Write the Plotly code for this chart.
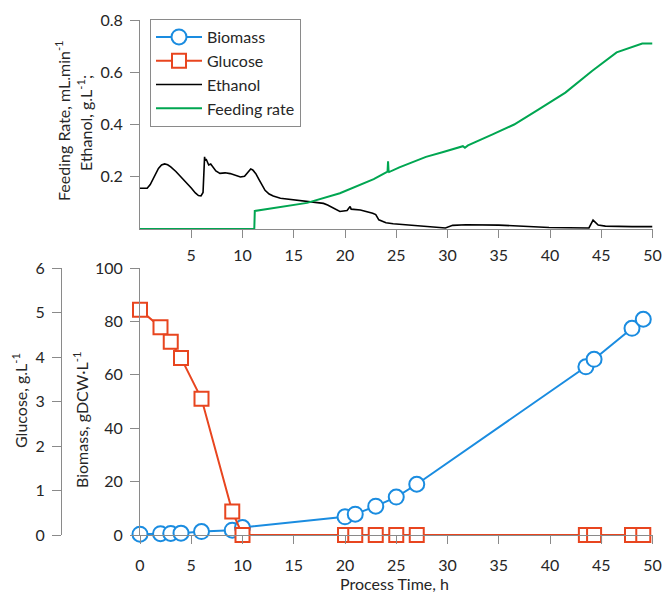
import plotly.graph_objects as go

# ---- Fed-batch data -------------------------------------------------------
# Online signals (upper panel)
time_ethanol = [0, 0.7, 1.0, 1.4, 1.8, 2.1, 2.4, 2.7, 3.0, 3.5, 4.0, 4.5, 5.0,
                5.4, 5.7, 5.95, 6.15, 6.3, 6.35, 6.45, 6.55, 6.7, 6.9, 7.1, 7.4,
                7.8, 8.3, 8.8, 9.3, 9.8, 10.2, 10.5, 10.8, 11.0, 11.3, 11.6, 11.9,
                12.2, 12.6, 13.0, 13.7, 15.0, 16.3, 17.9, 18.3, 18.6, 19.5, 20.2,
                20.5, 20.6, 21.5, 22.7, 23.0, 23.3, 24.0, 24.7, 26.0, 27.3, 29.2,
                29.8, 30.5, 31.8, 35.0, 39.9, 43.8, 44.2, 44.7, 45.4, 48.0, 50.0]
ethanol = [0.156, 0.156, 0.170, 0.200, 0.232, 0.245, 0.249, 0.246, 0.238, 0.220,
           0.200, 0.178, 0.157, 0.138, 0.128, 0.127, 0.140, 0.276, 0.262, 0.268,
           0.258, 0.245, 0.249, 0.238, 0.222, 0.213, 0.215, 0.212, 0.204, 0.199,
           0.202, 0.218, 0.230, 0.226, 0.212, 0.190, 0.168, 0.148, 0.134, 0.126,
           0.118, 0.111, 0.105, 0.098, 0.092, 0.086, 0.067, 0.071, 0.086, 0.076,
           0.073, 0.060, 0.055, 0.035, 0.024, 0.020, 0.016, 0.012, 0.006, 0.004,
           0.014, 0.016, 0.015, 0.006, 0.004, 0.034, 0.015, 0.011, 0.009, 0.009]

time_feed = [0, 11.15, 11.2, 16.3, 19.5, 22.8, 24.15, 24.2, 24.25, 24.3, 25.3,
             26.6, 27.9, 29.5, 31.5, 31.7, 32.0, 34.4, 36.5, 38.9, 41.5, 44.1,
             46.5, 49.0, 50.0]
feed_rate = [0, 0, 0.069, 0.100, 0.137, 0.191, 0.220, 0.259, 0.222, 0.218, 0.236,
             0.255, 0.276, 0.294, 0.317, 0.311, 0.320, 0.362, 0.400, 0.458, 0.522,
             0.605, 0.676, 0.710, 0.710]

# Offline samples (lower panel)
time_samples = [0, 2, 3, 4, 6, 9, 10, 20, 21, 23, 25, 27, 43.5, 44.3, 48.0, 49.1]
biomass = [0.3, 0.5, 0.6, 0.7, 1.3, 1.8, 2.8, 6.8, 7.8, 10.8, 14.2, 19.0,
           63.0, 65.8, 77.4, 80.8]
glucose = [5.06, 4.67, 4.34, 3.98, 3.06, 0.53, 0, 0, 0, 0, 0, 0, 0, 0, 0, 0]

x_ticks_top = [5, 10, 15, 20, 25, 30, 35, 40, 45, 50]
y_ticks_top = [0.2, 0.4, 0.6, 0.8]

# ---- Styling ---------------------------------------------------------------
W, H = 663, 592
BLUE = "#1a8ce0"
RED = "#e8451f"
GREEN = "#00a651"
AXIS = "#8a8a8a"
TEXT = "#262626"
FONT = "Lato, 'Open Sans', sans-serif"

fig = go.Figure()

fig.add_trace(go.Scatter(
    x=time_samples, y=biomass, name="Biomass", mode="lines+markers",
    xaxis="x2", yaxis="y2", cliponaxis=False, legendgroup="a",
    line=dict(color=BLUE, width=2),
    marker=dict(symbol="circle", size=15, color="white",
                line=dict(color=BLUE, width=2))))

fig.add_trace(go.Scatter(
    x=time_samples, y=glucose, name="Glucose", mode="lines+markers",
    xaxis="x2", yaxis="y3", cliponaxis=False, legendgroup="b",
    line=dict(color=RED, width=2),
    marker=dict(symbol="square", size=14, color="white",
                line=dict(color=RED, width=2))))

fig.add_trace(go.Scatter(
    x=time_ethanol, y=ethanol, name="Ethanol", mode="lines",
    xaxis="x", yaxis="y", cliponaxis=False, legendgroup="c",
    line=dict(color="black", width=1.6)))

fig.add_trace(go.Scatter(
    x=time_feed, y=feed_rate, name="Feeding rate", mode="lines",
    xaxis="x", yaxis="y", cliponaxis=False, legendgroup="d",
    line=dict(color=GREEN, width=2)))

x_dom = [140 / W, 652.5 / W]
plot_top, plot_bot = 20, 535
span = plot_bot - plot_top


def py(pix):
    """Vertical pixel position -> paper fraction."""
    return (plot_bot - pix) / span


axis_common = dict(showline=True, linecolor=AXIS, linewidth=1, ticks="outside",
                   tickcolor=AXIS, tickwidth=1, showgrid=False, zeroline=False,
                   automargin=False, ticklabeloverflow="allow",
                   tickfont=dict(size=16, color=TEXT))

fig.update_layout(
    width=W, height=H,
    margin=dict(l=0, r=0, t=plot_top, b=H - plot_bot),
    paper_bgcolor="white", plot_bgcolor="white",
    font=dict(family=FONT, size=16, color=TEXT),
    xaxis=dict(domain=x_dom, anchor="y", range=[0, 50], tickvals=x_ticks_top,
               ticklen=8, ticklabelstandoff=4, **axis_common),
    yaxis=dict(domain=[py(229), 1], anchor="x", range=[0, 0.8],
               tickvals=y_ticks_top, ticktext=["0.2", "0.4", "0.6", "0.8"],
               ticklen=9, ticklabelstandoff=4, **axis_common),
    xaxis2=dict(domain=x_dom, anchor="y2", range=[0, 50], tick0=0, dtick=5,
                ticklen=8, ticklabelstandoff=8, **axis_common),
    yaxis2=dict(domain=[0, py(268)], anchor="x2", range=[0, 100], tick0=0,
                dtick=20, ticklen=9, ticklabelstandoff=4, **axis_common),
    yaxis3=dict(overlaying="y2", anchor="free", position=61 / W, side="left",
                range=[0, 6], tick0=0, dtick=1, ticklen=9, ticklabelstandoff=4,
                **axis_common),
    legend=dict(x=150 / W, y=py(19), xanchor="left", yanchor="top",
                bordercolor=AXIS, borderwidth=1, bgcolor="white",
                font=dict(size=16, color=TEXT), itemwidth=46,
                tracegroupgap=3, traceorder="normal"),
)

# Axis titles
titles = [
    ("Feeding Rate, mL.min<sup>-1</sup>", 62, 121, -90),
    ("Ethanol, g.L<sup>-1</sup>;", 85, 123, -90),
    ("Glucose, g.L<sup>-1</sup>", 19, 401, -90),
    ("Biomass, gDCW·L<sup>-1</sup>", 80, 420, -90),
    ("Process Time, h", 394, 583, 0),
]
for text, px_x, px_y, angle in titles:
    fig.add_annotation(text=text, xref="paper", yref="paper",
                       x=px_x / W, y=py(px_y), xanchor="center",
                       yanchor="middle", textangle=angle, showarrow=False,
                       font=dict(size=16, color=TEXT))

fig.write_html("out.html")
